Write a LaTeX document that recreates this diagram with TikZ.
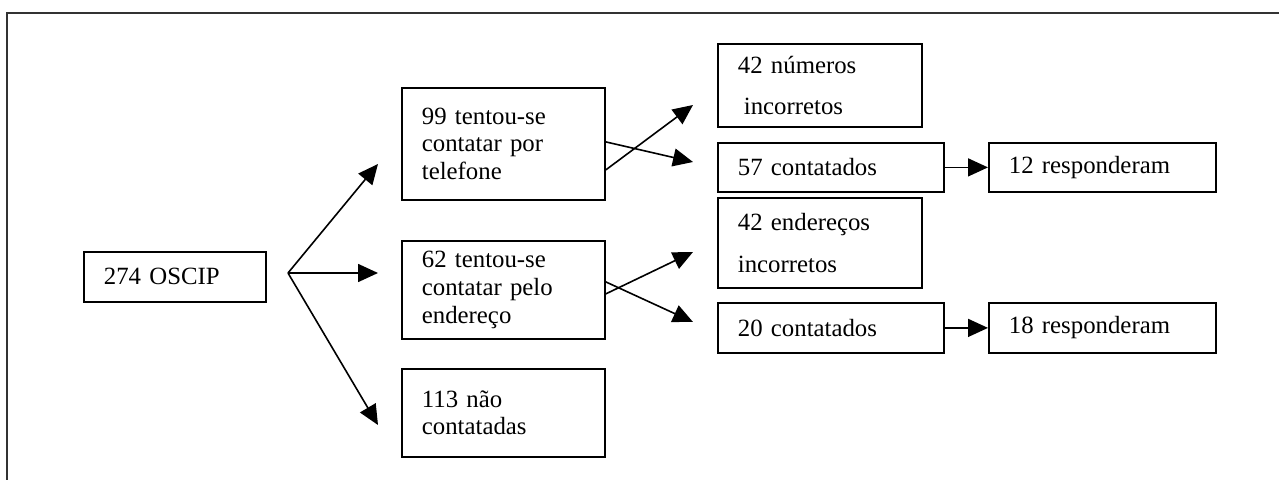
\documentclass[tikz,border=0pt]{standalone}
\usepackage{fontspec}
\setmainfont{Liberation Serif}
\usetikzlibrary{arrows.meta}
\begin{document}
\begin{tikzpicture}[x=0.5pt,y=-0.5pt,
  cbox/.style 2 args={draw, line width=0.9pt, anchor=north west, inner ysep=0pt,
    inner xsep=10pt, text width=#1*0.5pt-20pt, minimum height=#2*0.5pt, align=left,
    font=\fontsize{12.4}{13.8}\selectfont},
  arr/.style={line width=0.8pt, -{Triangle[length=10pt,width=9pt]}},
  frame/.style={line width=0.6pt, black!80}]
\useasboundingbox (0,0) rectangle (1279,480);
\draw[frame] (1279,13) -- (7,13) -- (7,480);
% boxes
\node[cbox={182}{50}] (oscip) at (83,251) {274 OSCIP};
\node[cbox={203}{112}] (tel) at (401,87) {99 tentou-se\\contatar por\\telefone};
\node[cbox={203}{98}] (end) at (401,240) {62 tentou-se\\contatar pelo\\endereço};
\node[cbox={203}{88}] (nao) at (401,368) {113 não\\contatadas};
\node[cbox={204}{83}] (num) at (717,43) {42 números\\[6.9pt]\hspace*{3pt}incorretos};
\node[cbox={226}{49}] (c57) at (717,142) {57 contatados};
\node[cbox={227}{49}] (r12) at (988,142) {12 responderam};
\node[cbox={204}{90}] (endinc) at (717,197) {42 endereços\\[6.9pt]incorretos};
\node[cbox={226}{50}] (c20) at (717,302) {20 contatados};
\node[cbox={227}{50}] (r18) at (988,302) {18 responderam};
% coordinates
\coordinate (br) at (288,273);
\coordinate (t1) at (378,164);
\coordinate (t2) at (378,273);
\coordinate (t3) at (378,425);
\coordinate (tnum) at (693,105);
\coordinate (t57) at (693,162);
\coordinate (tend) at (693,252);
\coordinate (t20) at (693,322);
% connectors
\draw[arr] (br) -- (t1);
\draw[arr] (br) -- (t2);
\draw[arr] (br) -- (t3);
\draw[arr] ([yshift=1pt]tel.east) -- (t57);
\draw[arr] ([yshift=-13pt]tel.east) -- (tnum);
\draw[arr] ([yshift=4pt]end.east) -- (t20);
\draw[arr] ([yshift=-2pt]end.east) -- (tend);
\draw[arr] (c57.east) -- (r12.west);
\draw[arr] (c20.east) -- (r18.west);
\end{tikzpicture}
\end{document}
